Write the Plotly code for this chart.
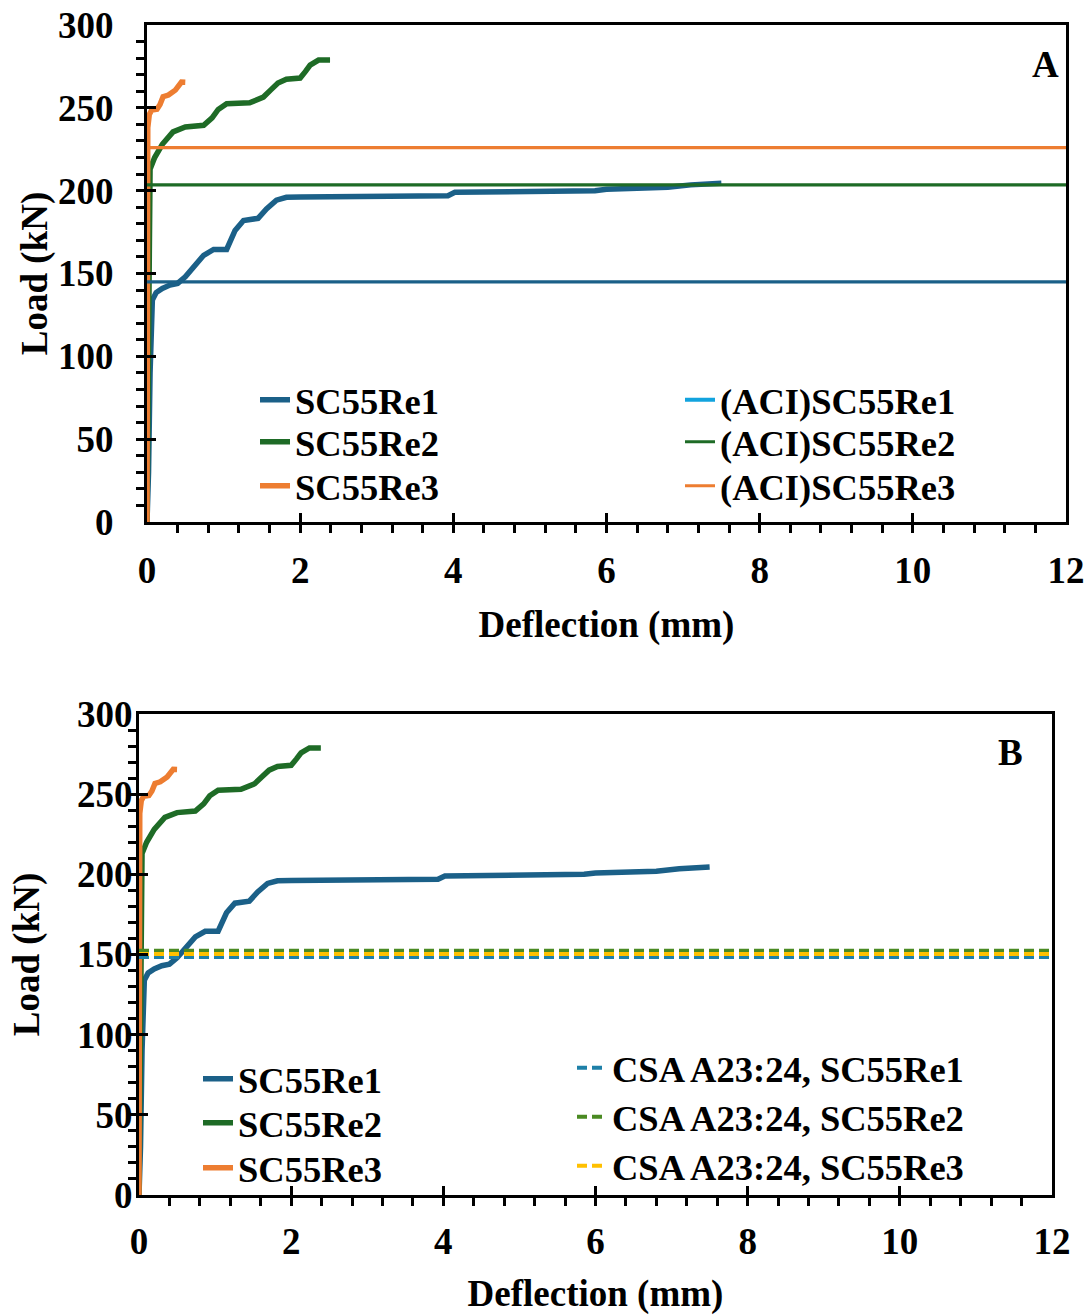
import plotly.graph_objects as go

# ---------------- data ----------------
re1_x = [0, 0.02, 0.04, 0.05, 0.07, 0.12, 0.2, 0.3, 0.4, 0.5, 0.6, 0.74, 0.87, 1.04, 1.15, 1.26, 1.45, 1.56, 1.69, 1.82,
         2.0, 3.0, 3.93, 4.02, 4.5, 5.0, 5.85, 6.0, 6.4, 6.8, 7.1, 7.3, 7.5]
re1_y = [0, 30, 90, 125, 134, 138.5, 141, 143, 144, 148, 153, 161, 164.5, 164.5, 176, 182, 183.3, 189, 194.3, 196,
         196.2, 196.5, 197, 199, 199.2, 199.7, 200, 200.8, 201, 202, 203.5, 204.3, 204.5]

re2_x = [0, 0.02, 0.03, 0.04, 0.1, 0.2, 0.34, 0.5, 0.74, 0.85, 0.93, 1.04, 1.34, 1.52, 1.62, 1.71, 1.82, 2.0, 2.07,
         2.13, 2.24, 2.39]
re2_y = [0, 150, 190, 213, 220, 228, 235.5, 238.5, 239.5, 244, 249, 252.5, 253, 256.5, 261, 265, 267.3, 268, 272,
         275.8, 278.8, 278.8]

re3_x = [0, 0.005, 0.01, 0.03, 0.06, 0.13, 0.17, 0.21, 0.28, 0.37, 0.45, 0.5]
re3_y = [0, 150, 238, 246, 248.6, 249.2, 252, 256.7, 257.7, 260.7, 265.5, 265.4]

aci_loads = {"SC55Re1": 145, "SC55Re2": 203.5, "SC55Re3": 226}
csa_loads = {"SC55Re1": 148.5, "SC55Re2": 152.3, "SC55Re3": 150.3}

x_range = [0, 12]
y_range = [0, 300]

# ---------------- styles ----------------
C_BLUE = "#1B6088"
C_GREEN = "#1E6B26"
C_ORANGE = "#ED7D31"
C_ACI1_LEG = "#12A3DE"
CSA_COLORS = {"SC55Re1": "#1E80A8", "SC55Re2": "#4A8A22", "SC55Re3": "#FFC000"}
FONT = "Liberation Serif, Times New Roman, serif"
FS = 37
LFS = 36.5

W, H = 1090, 1315


def px_x(p):
    return p / W


def px_y(p):
    return 1 - p / H


fig = go.Figure()
legends = {}
leg_count = [0]


def new_legend(xpx, ypx):
    leg_count[0] += 1
    key = "legend" if leg_count[0] == 1 else "legend%d" % leg_count[0]
    legends[key] = dict(x=px_x(xpx), y=px_y(ypx - 2), xanchor="left", yanchor="middle",
                        bgcolor="rgba(0,0,0,0)", borderwidth=0,
                        font=dict(family=FONT, size=LFS, color="black", weight="bold"), itemwidth=30)
    return key


series = [("SC55Re1", re1_x, re1_y, C_BLUE), ("SC55Re2", re2_x, re2_y, C_GREEN), ("SC55Re3", re3_x, re3_y, C_ORANGE)]

# ---- panel A ----
rowsA = [402, 444, 488]
for (name, xs, ys, col), ry in zip(series, rowsA):
    fig.add_trace(go.Scatter(x=xs, y=ys, mode="lines", name=name, line=dict(color=col, width=5.5),
                             xaxis="x", yaxis="y", legend=new_legend(255, ry)))
aci_cols = {"SC55Re1": C_BLUE, "SC55Re2": C_GREEN, "SC55Re3": C_ORANGE}
for (name, val), ry in zip(aci_loads.items(), rowsA):
    lk = new_legend(680, ry)
    fig.add_trace(go.Scatter(x=x_range, y=[val, val], mode="lines", name="(ACI)" + name,
                             line=dict(color=aci_cols[name], width=3.2), xaxis="x", yaxis="y",
                             legend=lk, showlegend=(name != "SC55Re1")))
    if name == "SC55Re1":
        # legend key colour as in the original
        fig.add_trace(go.Scatter(x=[None], y=[None], mode="lines", name="(ACI)" + name,
                                 line=dict(color=C_ACI1_LEG, width=4), xaxis="x", yaxis="y", legend=lk))

# ---- panel B ----
rowsB1 = [1081, 1125, 1170]
rowsB2 = [1070, 1119, 1168]
for (name, xs, ys, col), ry in zip(series, rowsB1):
    fig.add_trace(go.Scatter(x=xs, y=ys, mode="lines", name=name, line=dict(color=col, width=5.5),
                             xaxis="x2", yaxis="y2", legend=new_legend(198, ry)))
for (name, val), ry in zip(csa_loads.items(), rowsB2):
    fig.add_trace(go.Scatter(x=x_range, y=[val, val], mode="lines", name="CSA A23:24, " + name,
                             line=dict(color=CSA_COLORS[name], width=4, dash="10px,5px"),
                             xaxis="x2", yaxis="y2", legend=new_legend(572, ry)))

tickfont = dict(family=FONT, size=FS, color="black", weight="bold")


def xaxis(dom, anchor, standoff, tstand):
    return dict(domain=dom, anchor=anchor, range=x_range, dtick=2, tick0=0, automargin=False,
                ticks="inside", ticklen=9, tickwidth=3, tickcolor="black",
                minor=dict(dtick=0.4, ticks="outside", ticklen=8, tickwidth=3, tickcolor="black"),
                showline=True, linewidth=3, linecolor="black", mirror=True, showgrid=False, zeroline=False,
                tickfont=tickfont, ticklabelstandoff=standoff,
                title=dict(text="Deflection (mm)", font=tickfont, standoff=tstand))


def yaxis(dom, anchor, standoff, tstand):
    return dict(domain=dom, anchor=anchor, range=y_range, dtick=50, tick0=0, automargin=False,
                ticks="inside", ticklen=9, tickwidth=3, tickcolor="black",
                minor=dict(dtick=10, ticks="outside", ticklen=8, tickwidth=3, tickcolor="black"),
                showline=True, linewidth=3, linecolor="black", mirror=True, showgrid=False, zeroline=False,
                tickfont=tickfont, ticklabelstandoff=standoff,
                title=dict(text="Load (kN)", font=tickfont, standoff=tstand))


def x_over(dom, anchor, over):
    # outside half of the major x ticks (major ticks cross the axis)
    return dict(domain=dom, anchor=anchor, overlaying=over, range=x_range, dtick=2, tick0=0, automargin=False,
                ticks="outside", ticklen=8, tickwidth=3, tickcolor="black", showticklabels=False,
                showline=False, showgrid=False, zeroline=False)


def y_over(dom, anchor, over):
    return dict(domain=dom, anchor=anchor, overlaying=over, range=y_range, dtick=50, tick0=0, automargin=False,
                ticks="outside", ticklen=8, tickwidth=3, tickcolor="black", showticklabels=False,
                showline=False, showgrid=False, zeroline=False)


xdA, ydA = [px_x(147), px_x(1066)], [px_y(522), px_y(25)]
xdB, ydB = [px_x(139), px_x(1052)], [px_y(1195), px_y(714)]

fig.update_layout(
    width=W, height=H, margin=dict(l=0, r=0, t=0, b=0, autoexpand=False),
    paper_bgcolor="white", plot_bgcolor="white",
    xaxis=xaxis(xdA, "y", 14, 21),
    yaxis=yaxis(ydA, "x", 23, 0),
    xaxis2=xaxis(xdB, "y2", 12, 22),
    yaxis2=yaxis(ydB, "x2", -4, 27),
    xaxis3=x_over(xdA, "y", "x"),
    yaxis3=y_over(ydA, "x", "y"),
    xaxis4=x_over(xdB, "y2", "x2"),
    yaxis4=y_over(ydB, "x2", "y2"),
    showlegend=True,
    annotations=[
        dict(text="A", x=px_x(1045), y=px_y(65), xref="paper", yref="paper", showarrow=False,
             xanchor="center", yanchor="middle",
             font=dict(family=FONT, size=FS, color="black", weight="bold")),
        dict(text="B", x=px_x(1010), y=px_y(752), xref="paper", yref="paper", showarrow=False,
             xanchor="center", yanchor="middle",
             font=dict(family=FONT, size=FS, color="black", weight="bold")),
    ],
)
fig.update_layout(**legends)

fig.write_html("out.html")
